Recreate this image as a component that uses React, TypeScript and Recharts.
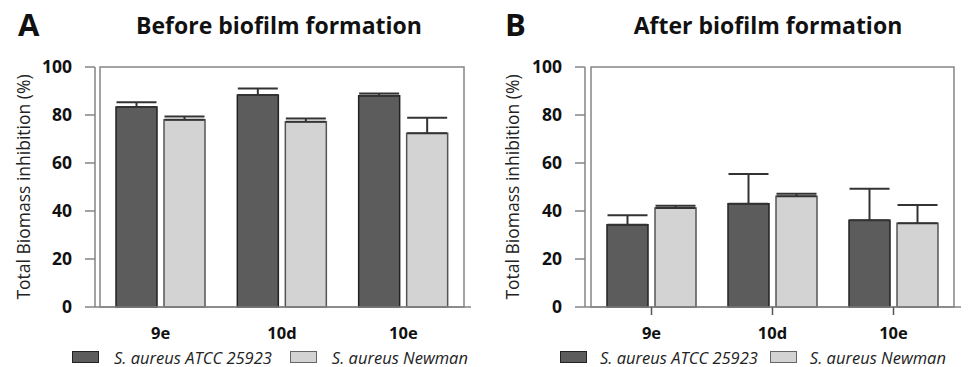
import React from "react";
import { Bar, BarChart, ErrorBar, Legend, ReferenceArea, XAxis, YAxis } from "recharts";

const COMPOUNDS = ["9e", "10d", "10e"];
const Y_TICKS = [0, 20, 40, 60, 80, 100];

// before biofilm formation (panel A)
const BEFORE_ATCC = [83.3, 88.3, 88.0];
const BEFORE_ATCC_ERR = [2.0, 2.7, 1.0];
const BEFORE_NEWMAN = [78.0, 77.2, 72.4];
const BEFORE_NEWMAN_ERR = [1.4, 1.3, 6.5];

// after biofilm formation (panel B)
const AFTER_ATCC = [34.3, 43.0, 36.1];
const AFTER_ATCC_ERR = [3.9, 12.4, 13.2];
const AFTER_NEWMAN = [41.3, 46.1, 34.9];
const AFTER_NEWMAN_ERR = [0.9, 1.1, 7.6];

const SERIES_NAMES = ["S. aureus ATCC 25923", "S. aureus Newman"];

const FONT = '"Open Sans", sans-serif';
const DARK = "#5c5c5c";
const LIGHT = "#d3d3d3";
const AXIS = "#858585";

type Row = { name: string; atcc: number; atccErr: number[]; newman: number; newmanErr: number[] };

function buildRows(a: number[], aErr: number[], n: number[], nErr: number[]): Row[] {
  return COMPOUNDS.map((name, i) => ({
    name,
    atcc: a[i],
    atccErr: [0, aErr[i]],
    newman: n[i],
    newmanErr: [0, nErr[i]],
  }));
}

function YTitle({ viewBox, shift }: any) {
  const cx = viewBox.x + shift;
  const cy = viewBox.y + viewBox.height / 2;
  return (
    <text
      x={cx}
      y={cy}
      transform={`rotate(-90 ${cx} ${cy})`}
      textAnchor="middle"
      dominantBaseline="central"
      fontFamily={FONT}
      fontSize={17.5}
      fill="#222"
    >
      Total Biomass inhibition (%)
    </text>
  );
}

function LegendRow({ pad, gapText, gapItem }: { pad: number; gapText: number; gapItem: number }) {
  const sw = (fill: string, stroke: string) => (
    <span
      style={{
        display: "inline-block",
        width: 25,
        height: 10,
        background: fill,
        border: `1px solid ${stroke}`,
        marginRight: gapText,
      }}
    />
  );
  return (
    <div
      style={{
        display: "flex",
        alignItems: "center",
        height: 20,
        paddingLeft: pad,
        fontFamily: FONT,
        fontStyle: "italic",
        fontSize: 16.5,
        color: "#222",
        whiteSpace: "nowrap",
      }}
    >
      {sw(DARK, "#222")}
      <span style={{ marginRight: gapItem }}>{SERIES_NAMES[0]}</span>
      {sw(LIGHT, "#666")}
      <span>{SERIES_NAMES[1]}</span>
    </div>
  );
}

function Panel({
  rows,
  width,
  marginLeft,
  marginRight,
  xPad,
  xTicks,
  labelShift,
  legend,
}: {
  rows: Row[];
  width: number;
  marginLeft: number;
  marginRight: number;
  xPad: { left: number; right: number };
  xTicks: boolean;
  labelShift: number;
  legend: { pad: number; gapText: number; gapItem: number };
}) {
  return (
    <BarChart
      width={width}
      height={367}
      data={rows}
      margin={{ top: 67, right: marginRight, bottom: 0, left: marginLeft }}
      barSize={41}
      barGap={7}
    >
      <XAxis
        dataKey="name"
        padding={xPad}
        height={40}
        stroke={AXIS}
        strokeWidth={1.5}
        tickLine={xTicks ? { stroke: "#555", strokeWidth: 1.5 } : false}
        tickSize={8}
        tickMargin={12}
        tick={{ fill: "#111", fontFamily: FONT, fontWeight: 700, fontSize: 16.5 }}
      />
      <YAxis
        domain={[0, 100]}
        ticks={Y_TICKS}
        width={85}
        stroke={AXIS}
        strokeWidth={1.5}
        tickSize={10}
        tickMargin={13}
        tick={{ fill: "#111", fontFamily: FONT, fontWeight: 700, fontSize: 17.5 }}
        label={(props: any) => <YTitle {...props} shift={labelShift} />}
      />
      <ReferenceArea y1={0} y2={100} fill="none" stroke={AXIS} strokeWidth={1.5} />
      <Legend
        verticalAlign="bottom"
        height={20}
        wrapperStyle={{ left: 0, width: width }}
        content={() => <LegendRow {...legend} />}
      />
      <Bar dataKey="atcc" name={SERIES_NAMES[0]} fill={DARK} stroke="#222" strokeWidth={1.5} isAnimationActive={false}>
        <ErrorBar dataKey="atccErr" width={20} stroke="#333" strokeWidth={2} isAnimationActive={false} />
      </Bar>
      <Bar dataKey="newman" name={SERIES_NAMES[1]} fill={LIGHT} stroke="#555" strokeWidth={1.5} isAnimationActive={false}>
        <ErrorBar dataKey="newmanErr" width={20} stroke="#333" strokeWidth={2} isAnimationActive={false} />
      </Bar>
    </BarChart>
  );
}

const titleStyle: React.CSSProperties = {
  position: "absolute",
  top: 12,
  fontFamily: FONT,
  fontWeight: 700,
  fontSize: 23,
  lineHeight: "26px",
  color: "#111",
  textAlign: "center",
  width: 380,
};

const letterStyle: React.CSSProperties = {
  position: "absolute",
  top: 6,
  fontFamily: FONT,
  fontWeight: 700,
  fontSize: 31,
  lineHeight: "36px",
  color: "#111",
};

export default function App() {
  const before = buildRows(BEFORE_ATCC, BEFORE_ATCC_ERR, BEFORE_NEWMAN, BEFORE_NEWMAN_ERR);
  const after = buildRows(AFTER_ATCC, AFTER_ATCC_ERR, AFTER_NEWMAN, AFTER_NEWMAN_ERR);
  return (
    <div style={{ position: "absolute", left: 0, top: 0, width: 971, height: 367, background: "#fff" }}>
      <div style={{ ...letterStyle, left: 18 }}>A</div>
      <div style={{ ...letterStyle, left: 505 }}>B</div>
      <div style={{ ...titleStyle, left: 279 - 190 }}>Before biofilm formation</div>
      <div style={{ ...titleStyle, left: 768 - 190 }}>After biofilm formation</div>
      <div style={{ position: "absolute", left: 0, top: 0 }}>
        <Panel
          rows={before}
          width={485}
          marginLeft={10}
          marginRight={14}
          xPad={{ left: 5, right: 7 }}
          xTicks={false}
          labelShift={13}
          legend={{ pad: 72, gapText: 15, gapItem: 18 }}
        />
      </div>
      <div style={{ position: "absolute", left: 485, top: 0 }}>
        <Panel
          rows={after}
          width={486}
          marginLeft={15}
          marginRight={10}
          xPad={{ left: 6, right: 7 }}
          xTicks={true}
          labelShift={12}
          legend={{ pad: 75, gapText: 13, gapItem: 12 }}
        />
      </div>
    </div>
  );
}
